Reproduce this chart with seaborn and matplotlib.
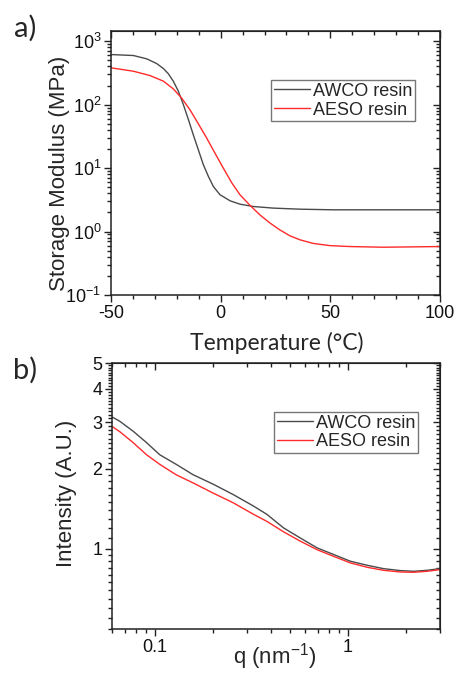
import numpy as np
import pandas as pd
import matplotlib
matplotlib.use("Agg")
import matplotlib.pyplot as plt
from matplotlib.ticker import FixedLocator, NullFormatter, FixedFormatter
import seaborn as sns

# ---- DMA: storage modulus vs temperature ----
temp_awco = [-50, -39.8, -33.7, -29.2, -26.1, -23.9, -21.6, -19.3, -17.0, -14.7, -12.5, -10.2,
             -7.9, -5.6, -3.3, -0.3, 4.3, 8.8, 14.9, 24, 36.2, 51.4, 75, 100]
mod_awco = [615, 594, 526, 444, 370, 308, 234, 163, 100, 58, 33.6, 19.5,
            11.3, 7.4, 5.1, 3.8, 3.05, 2.7, 2.48, 2.34, 2.25, 2.2, 2.2, 2.2]
temp_aeso = [-50, -39.8, -32.2, -26.1, -21.6, -17.8, -14, -10.2, -6.4, -2.6, 1.2, 5, 8.8,
             13.4, 17.9, 22.5, 27, 31.6, 36.2, 42.2, 49.8, 59, 74.2, 100]
mod_aeso = [380, 336, 287, 234, 177, 127, 83, 50, 29.8, 17.2, 10, 5.9, 3.8,
            2.58, 1.83, 1.36, 1.06, 0.855, 0.74, 0.65, 0.60, 0.58, 0.566, 0.58]

# ---- SAXS: intensity vs q ----
q_awco = [0.0603, 0.0658, 0.0772, 0.0906, 0.106, 0.129, 0.158, 0.201, 0.255, 0.324, 0.380, 0.464,
          0.566, 0.691, 0.843, 1.03, 1.26, 1.53, 1.87, 2.19, 2.57, 3.0]
i_awco = [3.13, 3.02, 2.77, 2.51, 2.26, 2.08, 1.90, 1.75, 1.60, 1.45, 1.35, 1.20,
          1.10, 1.01, 0.953, 0.899, 0.868, 0.843, 0.829, 0.824, 0.831, 0.843]
q_aeso = q_awco
i_aeso = [2.88, 2.76, 2.51, 2.26, 2.08, 1.90, 1.77, 1.62, 1.49, 1.35, 1.27, 1.16,
          1.07, 0.994, 0.938, 0.886, 0.853, 0.831, 0.819, 0.817, 0.824, 0.836]

series_names = ["AWCO resin", "AESO resin"]
series_colors = ["#4a4a4a", "#ff2a2a"]

dma = pd.concat([
    pd.DataFrame({"T": temp_awco, "E": mod_awco, "sample": series_names[0]}),
    pd.DataFrame({"T": temp_aeso, "E": mod_aeso, "sample": series_names[1]}),
])
saxs = pd.concat([
    pd.DataFrame({"q": q_awco, "I": i_awco, "sample": series_names[0]}),
    pd.DataFrame({"q": q_aeso, "I": i_aeso, "sample": series_names[1]}),
])

sns.set_style("ticks")
plt.rcParams["font.family"] = ["Liberation Sans", "DejaVu Sans"]
plt.rcParams["mathtext.fontset"] = "custom"
plt.rcParams["mathtext.rm"] = "Liberation Sans"
plt.rcParams["mathtext.it"] = "Liberation Sans"
plt.rcParams["mathtext.default"] = "regular"

W, H = 454, 676
fig = plt.figure(figsize=(W / 100, H / 100), dpi=100)
palette = dict(zip(series_names, series_colors))
spine_c = "#222222"
tick_fs = 13


def box(l, t, r, b):
    return [l / W, 1 - b / H, (r - l) / W, (b - t) / H]


def style_axes(ax):
    for s in ax.spines.values():
        s.set_visible(True)
        s.set_color(spine_c)
        s.set_linewidth(1.1)
    ax.tick_params(which="both", direction="out", color=spine_c, width=1.0,
                   bottom=True, left=True, top=False, right=False,
                   labelsize=tick_fs, labelcolor="#111111", pad=2)
    ax.tick_params(which="major", length=5)
    ax.tick_params(which="minor", length=3)


def mirror(ax, xmaj, xmin, ymaj, ymin):
    top = ax.secondary_xaxis("top")
    top.xaxis.set_major_locator(FixedLocator(xmaj))
    top.xaxis.set_minor_locator(FixedLocator(xmin))
    top.tick_params(which="both", direction="in", top=True, labeltop=False, color=spine_c, width=1.0)
    top.tick_params(which="major", length=5)
    top.tick_params(which="minor", length=3)
    top.spines["top"].set_color(spine_c)
    right = ax.secondary_yaxis("right")
    right.yaxis.set_major_locator(FixedLocator(ymaj))
    right.yaxis.set_minor_locator(FixedLocator(ymin))
    right.tick_params(which="both", direction="in", right=True, labelright=False, color=spine_c, width=1.0)
    right.tick_params(which="major", length=5)
    right.tick_params(which="minor", length=3)
    right.spines["right"].set_color(spine_c)
    for sec in (top, right):
        sec.xaxis.set_minor_formatter(NullFormatter())
        sec.yaxis.set_minor_formatter(NullFormatter())


# ---------- panel a ----------
ax1 = fig.add_axes(box(111, 31, 440, 295))
sns.lineplot(data=dma, x="T", y="E", hue="sample", palette=palette, linewidth=1.0,
             ax=ax1, sort=False, estimator=None)
ax1.set_yscale("log")
ax1.set_xlim(-50, 100)
ax1.set_ylim(0.1, 10 ** 3.16)
style_axes(ax1)
ymaj1 = [0.1, 1, 10, 100, 1000]
ymin1 = [m * 10.0 ** e for e in range(-1, 3) for m in range(2, 10)] + [2000]
ax1.yaxis.set_major_locator(FixedLocator(ymaj1))
ax1.yaxis.set_major_formatter(FixedFormatter([r"$10^{-1}$", r"$10^{0}$", r"$10^{1}$", r"$10^{2}$", r"$10^{3}$"]))
ax1.yaxis.set_minor_locator(FixedLocator(ymin1))
ax1.yaxis.set_minor_formatter(NullFormatter())
xmaj1 = [-50, 0, 50, 100]
xmin1 = list(range(-40, 100, 10))
ax1.xaxis.set_major_locator(FixedLocator(xmaj1))
ax1.xaxis.set_major_formatter(FixedFormatter(["-50", "0", "50", "100"]))
ax1.xaxis.set_minor_locator(FixedLocator(xmin1))
mirror(ax1, xmaj1, xmin1, ymaj1, ymin1)
ax1.set_xlabel("Temperature (°C)", family=["Lato", "DejaVu Sans"], fontsize=16.5, va="center")
ax1.xaxis.set_label_coords(0.503, -0.182)
ax1.set_ylabel("Storage Modulus (MPa)", fontsize=16, va="center")
ax1.yaxis.set_label_coords(-0.158, 0.46)
leg1 = ax1.legend(loc="upper right", bbox_to_anchor=(0.924, 0.814), borderaxespad=0,
                  fontsize=13, frameon=True, fancybox=False, handlelength=2.0,
                  handletextpad=0.15, borderpad=0.15, labelspacing=0.1)
leg1.get_frame().set_edgecolor("#555555")
leg1.get_frame().set_linewidth(1.0)

# ---------- panel b ----------
ax2 = fig.add_axes(box(112, 363, 440, 629))
sns.lineplot(data=saxs, x="q", y="I", hue="sample", palette=palette, linewidth=1.0,
             ax=ax2, sort=False, estimator=None)
ax2.set_xscale("log")
ax2.set_yscale("log")
ax2.set_xlim(0.06, 3.0)
ax2.set_ylim(0.5, 5)
style_axes(ax2)
ymaj2 = [1, 2, 3, 4, 5]
ymin2 = [round(v, 2) for v in np.arange(0.5, 1.0, 0.05)] + \
        [round(v, 1) for v in np.arange(1.1, 5.0, 0.1) if round(v, 1) not in (2.0, 3.0, 4.0)]
ax2.yaxis.set_major_locator(FixedLocator(ymaj2))
ax2.yaxis.set_major_formatter(FixedFormatter(["1", "2", "3", "4", "5"]))
ax2.yaxis.set_minor_locator(FixedLocator(ymin2))
ax2.yaxis.set_minor_formatter(NullFormatter())
xmaj2 = [0.1, 1]
xmin2 = [0.06, 0.07, 0.08, 0.09] + [m / 10 for m in range(2, 10)] + [2, 3]
ax2.xaxis.set_major_locator(FixedLocator(xmaj2))
ax2.xaxis.set_major_formatter(FixedFormatter(["0.1", "1"]))
ax2.xaxis.set_minor_locator(FixedLocator(xmin2))
ax2.xaxis.set_minor_formatter(NullFormatter())
mirror(ax2, xmaj2, xmin2, ymaj2, ymin2)
ax2.set_xlabel(r"q (nm$^{-1}$)", fontsize=16, va="center")
ax2.xaxis.set_label_coords(0.497, -0.102)
ax2.set_ylabel("Intensity (A.U.)", fontsize=16, va="center")
ax2.yaxis.set_label_coords(-0.139, 0.508)
leg2 = ax2.legend(loc="upper right", bbox_to_anchor=(0.933, 0.816), borderaxespad=0,
                  fontsize=13, frameon=True, fancybox=False, handlelength=2.0,
                  handletextpad=0.15, borderpad=0.15, labelspacing=0.1)
leg2.get_frame().set_edgecolor("#555555")
leg2.get_frame().set_linewidth(1.0)

# panel letters
fig.text(25 / W, 1 - 28 / H, "a)", family=["Lato", "DejaVu Sans"], fontsize=21, ha="center", va="center")
fig.text(25 / W, 1 - 370 / H, "b)", family=["Lato", "DejaVu Sans"], fontsize=21, ha="center", va="center")

fig.savefig("out.png", dpi=100, facecolor="white")
